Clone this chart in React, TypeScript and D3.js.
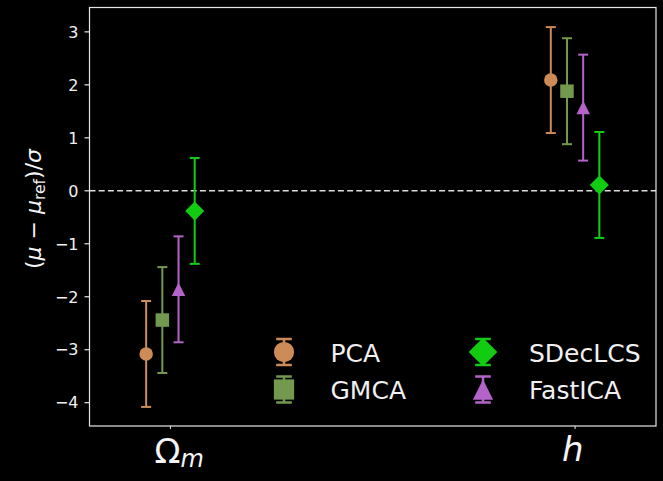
import React from 'react';
import * as d3 from 'd3';

const categories = ['Ω', 'h'];
const categorySubs = ['m', ''];
const methods = ['PCA', 'GMCA', 'FastICA', 'SDecLCS'];
const legendOrder = ['PCA', 'GMCA', 'SDecLCS', 'FastICA'];
const pcaValues = [-3.08, 2.09];
const gmcaValues = [-2.44, 1.88];
const fastIcaValues = [-1.86, 1.57];
const sdecValues = [-0.38, 0.11];
const pcaErrors = [1.0, 1.0];
const gmcaErrors = [1.0, 1.0];
const fastIcaErrors = [1.0, 1.0];
const sdecErrors = [1.0, 1.0];
const yTicks = [-4, -3, -2, -1, 0, 1, 2, 3];

const seriesValues: Record<string, number[]> = {
  PCA: pcaValues,
  GMCA: gmcaValues,
  FastICA: fastIcaValues,
  SDecLCS: sdecValues,
};
const seriesErrors: Record<string, number[]> = {
  PCA: pcaErrors,
  GMCA: gmcaErrors,
  FastICA: fastIcaErrors,
  SDecLCS: sdecErrors,
};
const colors: Record<string, string> = {
  PCA: '#cd8b57',
  GMCA: '#72994d',
  FastICA: '#b463c9',
  SDecLCS: '#12cc12',
};
const shapes: Record<string, string> = {
  PCA: 'circle',
  GMCA: 'square',
  FastICA: 'triangle',
  SDecLCS: 'diamond',
};

const W = 663;
const H = 481;
const left = 89.5;
const right = 656;
const top = 7.5;
const bottom = 426;
const FONT = '"DejaVu Sans", sans-serif';

function markerPath(shape: string, cx: number, cy: number, ms: number): string {
  const h = ms / 2;
  if (shape === 'circle') {
    return `M${cx - h},${cy}A${h},${h} 0 1,0 ${cx + h},${cy}A${h},${h} 0 1,0 ${cx - h},${cy}Z`;
  }
  if (shape === 'square') {
    return `M${cx - h},${cy - h}H${cx + h}V${cy + h}H${cx - h}Z`;
  }
  if (shape === 'triangle') {
    return `M${cx},${cy - h}L${cx + h},${cy + h}L${cx - h},${cy + h}Z`;
  }
  const d = ms * 0.707;
  return `M${cx},${cy - d}L${cx + d},${cy}L${cx},${cy + d}L${cx - d},${cy}Z`;
}

export default function App() {
  const x = d3.scaleLinear().domain([-0.2, 1.2]).range([left, right]);
  const y = d3.scaleLinear().domain([-4.44, 3.46]).range([bottom, top]);
  const offset = d3.scalePoint<string>().domain(methods).range([-0.06, 0.06]);
  const ms = 13.5;
  const cap = 5;

  const legendCols = [284, 483];
  const legendRows = [352, 389.5];
  const textCols = [330.5, 529];

  return (
    <svg width={W} height={H} style={{ position: 'absolute', left: 0, top: 0 }} fontFamily={FONT}>
      <rect x={0} y={0} width={W} height={H} fill="#000" />
      {/* zero line */}
      <line x1={left} x2={right} y1={y(0)} y2={y(0)} stroke="#dddddd" strokeWidth={1.6} strokeDasharray="6,3.2" />
      {/* series */}
      {methods.map((m) =>
        categories.map((c, i) => {
          const cx = x(i + (offset(m) as number));
          const v = seriesValues[m][i];
          const e = seriesErrors[m][i];
          const y1 = y(v + e);
          const y2 = y(v - e);
          return (
            <g key={m + i}>
              <line x1={cx} x2={cx} y1={y1} y2={y2} stroke={colors[m]} strokeWidth={2} />
              <line x1={cx - cap} x2={cx + cap} y1={y1} y2={y1} stroke={colors[m]} strokeWidth={2} />
              <line x1={cx - cap} x2={cx + cap} y1={y2} y2={y2} stroke={colors[m]} strokeWidth={2} />
              <path d={markerPath(shapes[m], cx, y(v), ms)} fill={colors[m]} />
            </g>
          );
        })
      )}
      {/* axes frame */}
      <rect x={left} y={top} width={right - left} height={bottom - top} fill="none" stroke="#e6e6e6" strokeWidth={1.2} />
      {/* y ticks */}
      {yTicks.map((t) => (
        <g key={t}>
          <line x1={left - 5} x2={left} y1={y(t)} y2={y(t)} stroke="#e6e6e6" strokeWidth={1.2} />
          <text x={78.5} y={y(t)} dy="0.36em" textAnchor="end" fontSize={16} fill="#f0f0f0">
            {t < 0 ? '\u2212' + Math.abs(t) : String(t)}
          </text>
        </g>
      ))}
      {/* x ticks */}
      {categories.map((c, i) => (
        <g key={c}>
          <line x1={x(i)} x2={x(i)} y1={bottom} y2={bottom + 3} stroke="#e6e6e6" strokeWidth={1} />
          {categorySubs[i] ? (
            <text x={x(i) - 16} y={463} fontSize={34} fill="#f4f4f4">
              <tspan>{c}</tspan>
              <tspan fontStyle="italic" fontSize={24} dy={3.5}>{categorySubs[i]}</tspan>
            </text>
          ) : (
            <text x={x(i) - 13} y={461} fontSize={34} fontStyle="italic" fill="#f4f4f4">{c}</text>
          )}
        </g>
      ))}
      {/* y label */}
      <text transform="translate(41,209) rotate(-90)" textAnchor="middle" fontSize={22} fill="#f4f4f4">
        <tspan>(</tspan>
        <tspan fontStyle="italic">μ</tspan>
        <tspan> − </tspan>
        <tspan fontStyle="italic">μ</tspan>
        <tspan fontSize={15.5} dy={4}>ref</tspan>
        <tspan dy={-4}>)/</tspan>
        <tspan fontStyle="italic">σ</tspan>
      </text>
      {/* legend */}
      {legendOrder.map((m, k) => {
        const col = Math.floor(k / 2);
        const row = k % 2;
        const cx = legendCols[col];
        const cy = legendRows[row];
        const lms = ms * 1.5;
        const lcap = 7.8;
        const ly = 13;
        return (
          <g key={m}>
            <line x1={cx} x2={cx} y1={cy - ly} y2={cy + ly} stroke={colors[m]} strokeWidth={2.5} />
            <line x1={cx - lcap} x2={cx + lcap} y1={cy - ly} y2={cy - ly} stroke={colors[m]} strokeWidth={2.5} />
            <line x1={cx - lcap} x2={cx + lcap} y1={cy + ly} y2={cy + ly} stroke={colors[m]} strokeWidth={2.5} />
            <path d={markerPath(shapes[m], cx, cy, lms)} fill={colors[m]} />
            <text x={textCols[col]} y={cy + 9.5} fontSize={25} fill="#f0f0f0">{m}</text>
          </g>
        );
      })}
    </svg>
  );
}
